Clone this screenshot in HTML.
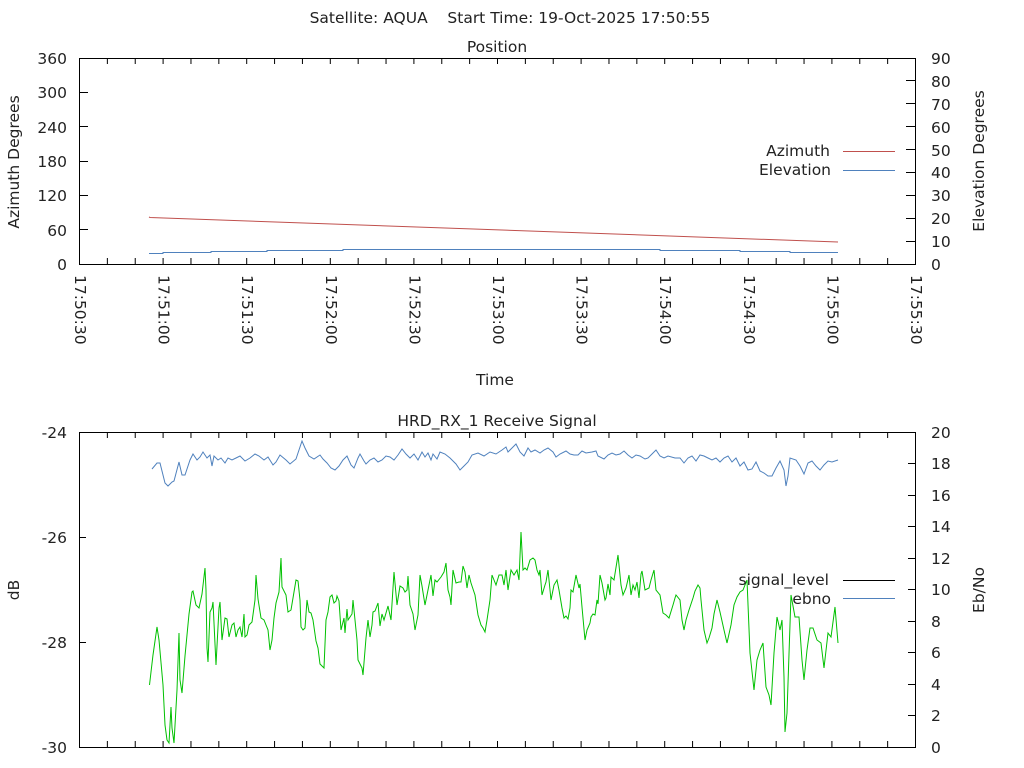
<!DOCTYPE html>
<html><head><meta charset="utf-8"><style>
html,body{margin:0;padding:0;background:#fff;}
svg{display:block;font-family:"DejaVu Sans","Liberation Sans",sans-serif;font-size:15.5px;fill:#222;}
</style></head><body>
<svg width="1024" height="768" viewBox="0 0 1024 768" xmlns="http://www.w3.org/2000/svg">
<rect width="1024" height="768" fill="#fff"/>
<text x="510" y="23" text-anchor="middle">Satellite: AQUA&#160;&#160;&#160;&#160;Start Time: 19-Oct-2025 17:50:55</text>
<text x="497" y="52" text-anchor="middle">Position</text>
<text x="497" y="426" text-anchor="middle">HRD_RX_1 Receive Signal</text>

<rect x="79.5" y="58.5" width="836" height="206" fill="none" stroke="#000" stroke-width="1"/>
<line x1="79" y1="261" x2="916" y2="261" stroke="#000" stroke-width="6" stroke-dasharray="1 26.867"/>
<line x1="79" y1="61" x2="916" y2="61" stroke="#000" stroke-width="6" stroke-dasharray="1 26.867"/>
<g stroke="#000">
<line x1="79" y1="92.5" x2="88" y2="92.5"/><line x1="79" y1="126.5" x2="88" y2="126.5"/><line x1="79" y1="161.5" x2="88" y2="161.5"/><line x1="79" y1="195.5" x2="88" y2="195.5"/><line x1="79" y1="229.5" x2="88" y2="229.5"/>
<line x1="906" y1="80.5" x2="916" y2="80.5"/><line x1="906" y1="103.5" x2="916" y2="103.5"/><line x1="906" y1="126.5" x2="916" y2="126.5"/><line x1="906" y1="149.5" x2="916" y2="149.5"/><line x1="906" y1="172.5" x2="916" y2="172.5"/><line x1="906" y1="195.5" x2="916" y2="195.5"/><line x1="906" y1="218.5" x2="916" y2="218.5"/><line x1="906" y1="241.5" x2="916" y2="241.5"/>
</g>
<g text-anchor="end">
<text x="67" y="64">360</text><text x="67" y="98">300</text><text x="67" y="133">240</text><text x="67" y="167">180</text><text x="67" y="201">120</text><text x="67" y="236">60</text><text x="67" y="270">0</text>
</g>
<g>
<text x="931" y="64">90</text><text x="931" y="87">80</text><text x="931" y="110">70</text><text x="931" y="133">60</text><text x="931" y="156">50</text><text x="931" y="178">40</text><text x="931" y="201">30</text><text x="931" y="224">20</text><text x="931" y="247">10</text><text x="931" y="270">0</text>
</g>
<text transform="translate(19,162) rotate(-90)" text-anchor="middle">Azimuth Degrees</text>
<text transform="translate(984,161) rotate(-90)" text-anchor="middle">Elevation Degrees</text>
<g dominant-baseline="central">
<text transform="translate(80,275) rotate(90)">17:50:30</text>
<text transform="translate(163.6,275) rotate(90)">17:51:00</text>
<text transform="translate(247.2,275) rotate(90)">17:51:30</text>
<text transform="translate(330.8,275) rotate(90)">17:52:00</text>
<text transform="translate(414.4,275) rotate(90)">17:52:30</text>
<text transform="translate(498,275) rotate(90)">17:53:00</text>
<text transform="translate(581.6,275) rotate(90)">17:53:30</text>
<text transform="translate(665.2,275) rotate(90)">17:54:00</text>
<text transform="translate(748.8,275) rotate(90)">17:54:30</text>
<text transform="translate(832.4,275) rotate(90)">17:55:00</text>
<text transform="translate(916,275) rotate(90)">17:55:30</text>
</g>
<text x="495" y="385" text-anchor="middle">Time</text>
<text x="830" y="156" text-anchor="end">Azimuth</text>
<text x="831" y="175" text-anchor="end">Elevation</text>
<line x1="843" y1="151.5" x2="895" y2="151.5" stroke="#c0504d"/>
<line x1="843" y1="170.5" x2="895" y2="170.5" stroke="#4f81bd"/>
<polyline fill="none" stroke="#c0504d" points="149,217 150,217.5 838,242"/>
<polyline fill="none" stroke="#4f81bd" points="149,253.5 163,253.5 163,252.5 211,252.5 211,251.5 267,251.5 267,250.5 343,250.5 343,249.5 660,249.5 660,250.5 740,250.5 740,251.5 790,251.5 790,252.5 838,252.5"/>

<rect x="79.5" y="432.5" width="836" height="315" fill="none" stroke="#000" stroke-width="1"/>
<line x1="79" y1="744" x2="916" y2="744" stroke="#000" stroke-width="6" stroke-dasharray="1 26.867"/>
<line x1="79" y1="435" x2="916" y2="435" stroke="#000" stroke-width="6" stroke-dasharray="1 26.867"/>
<g stroke="#000">
<line x1="79" y1="537.5" x2="86" y2="537.5"/><line x1="79" y1="642.5" x2="86" y2="642.5"/>
<line x1="908" y1="463.5" x2="916" y2="463.5"/><line x1="908" y1="495.5" x2="916" y2="495.5"/><line x1="908" y1="526.5" x2="916" y2="526.5"/><line x1="908" y1="558.5" x2="916" y2="558.5"/><line x1="908" y1="589.5" x2="916" y2="589.5"/><line x1="908" y1="621.5" x2="916" y2="621.5"/><line x1="908" y1="652.5" x2="916" y2="652.5"/><line x1="908" y1="684.5" x2="916" y2="684.5"/><line x1="908" y1="715.5" x2="916" y2="715.5"/>
</g>
<g text-anchor="end">
<text x="67" y="438">-24</text><text x="67" y="543">-26</text><text x="67" y="648">-28</text><text x="67" y="753">-30</text>
</g>
<g>
<text x="931" y="438">20</text><text x="931" y="469">18</text><text x="931" y="501">16</text><text x="931" y="532">14</text><text x="931" y="564">12</text><text x="931" y="595">10</text><text x="931" y="627">8</text><text x="931" y="658">6</text><text x="931" y="690">4</text><text x="931" y="721">2</text><text x="931" y="753">0</text>
</g>
<text transform="translate(19,590) rotate(-90)" text-anchor="middle">dB</text>
<text transform="translate(984,590) rotate(-90)" text-anchor="middle">Eb/No</text>

<polyline fill="none" stroke="#00c000" points="149.5,685 151,672 153,655 157,627 159,640 163,685 165,725 167,740 169,743 171,707 172,728 174,743 177,690 179,633 180,680 182,693 185,656 189,614 192,592 193,591 196,605 199,608 202,594 205,568 206,590 207,648 208,662 210,612 212,608 213,602 216,665 219,608 220,602 222,640 225,618 227,619 229,637 232,625 234,623 236,637 238,630 240,627 242,637 244,614 245,637 247,635 249,625 250,624 252,622 255,600 256,575 258,599 261,618 264,620 266,625 268,630 270,650 272,640 274,618 276,603 279,592 281,558 282,587 286,595 288,612 291,610 294,592 296,580 298,581 300,600 301,627 303,630 305,628 307,600 309,612 311,613 313,620 316,641 318,648 320,664 324,668 326,620 328,612 330,597 332,595 334,603 336,601 337,596 339,601 341,630 344,618 345,633 347,609 348,620 352,614 353,600 355,620 357,640 358,660 362,668 363,675 366,638 368,620 370,637 372,625 373,612 375,611 378,603 380,626 382,614 384,620 388,606 391,620 394,572 397,605 400,586 403,588 405,592 407,590 408,576 410,605 413,614 415,630 418,615 420,575 422,586 425,605 428,590 431,575 433,596 435,580 437,582 441,577 444,572 446,563 448,590 450,597 451,605 453,570 456,583 459,582 461,582 463,566 465,572 467,588 469,575 471,583 475,595 478,615 481,625 483,628 485,632 487,620 490,600 492,575 494,580 496,585 499,575 502,575 504,585 506,570 508,590 511,570 514,575 517,570 519,580 521,532 523,570 525,568 527,570 530,560 533,558 535,560 537,570 539,575 540,570 542,595 545,585 546,582 548,570 551,600 554,585 557,580 559,590 562,608 564,618 566,616 568,619 570,608 571,590 573,592 576,575 579,588 580,584 582,607 585,640 587,630 590,623 591,617 593,614 595,615 597,600 598,604 600,575 602,583 605,600 606,598 608,584 610,595 611,577 614,580 618,555 621,585 623,595 626,588 629,575 631,595 633,585 635,590 637,582 639,598 641,574 642,571 645,590 649,588 651,580 654,570 656,590 660,595 663,613 666,615 669,618 673,605 675,598 676,595 680,600 682,620 684,630 686,620 689,610 693,598 695,591 698,585 700,588 701,600 702,610 704,630 707,643 709,638 712,628 714,614 717,600 720,612 724,630 727,643 731,625 734,605 737,597 740,592 743,590 747,580 750,653 754,690 757,660 760,650 763,643 766,687 769,695 771,705 774,653 777,617 780,630 782,620 784,677 785,732 787,713 791,595 795,617 799,617 802,660 804,680 807,650 810,628 813,628 817,640 821,643 824,668 828,633 831,637 835,607 838,643"/>
<polyline fill="none" stroke="#4f81bd" points="152,469 157,463 160,463 165,483 168,486 172,482 174,481 179,462 182,475 185,475 190,460 193,454 197,460 200,457 203,452 207,458 210,455 212,466 214,456 218,460 221,458 225,463 228,458 232,460 236,458 240,456 245,461 250,458 255,454 259,456 264,460 268,457 273,465 276,462 280,455 286,460 290,464 296,459 302,441 305,448 309,456 314,459 320,455 323,459 327,463 331,468 335,470 339,466 343,460 347,456 351,465 354,468 358,458 360,454 364,461 366,464 370,460 374,458 378,462 382,460 386,456 390,457 394,460 398,455 402,449 406,454 410,458 414,454 418,460 422,452 425,457 428,453 431,460 433,454 437,459 440,452 445,454 450,458 456,464 460,470 464,466 468,462 472,455 478,453 484,456 490,452 496,454 502,450 506,447 508,452 512,448 516,444 520,452 524,456 528,448 531,452 535,450 540,453 544,450 548,448 553,452 556,457 560,454 566,451 570,454 574,455 578,455 582,451 586,453 592,452 596,451 598,456 604,459 608,455 612,453 616,455 620,454 624,451 628,455 632,458 636,455 640,456 645,459 648,458 652,454 656,450 660,456 664,458 668,456 675,458 680,458 684,463 688,458 692,456 696,461 700,455 704,456 708,458 712,460 716,458 720,462 724,458 728,456 732,462 736,458 740,466 744,462 748,470 752,469 756,462 760,471 764,473 768,476 772,476 776,468 780,461 784,470 786,486 788,476 790,458 796,460 800,466 804,474 808,463 812,461 816,466 820,470 824,465 828,461 832,462 838,460"/>
<text x="829" y="585" text-anchor="end">signal_level</text>
<text x="831" y="604" text-anchor="end">ebno</text>
<line x1="843" y1="580.5" x2="895" y2="580.5" stroke="#000"/>
<line x1="843" y1="598.5" x2="895" y2="598.5" stroke="#4f81bd"/>
</svg>
</body></html>
